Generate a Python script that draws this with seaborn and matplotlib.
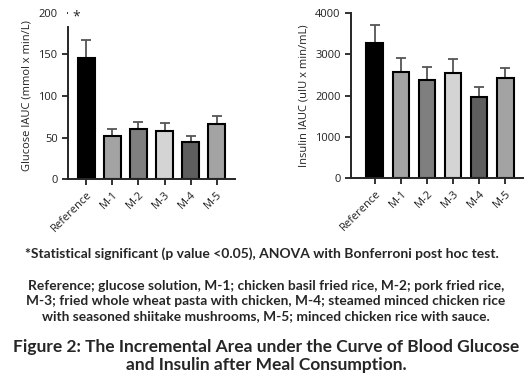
import numpy as np
import pandas as pd
import seaborn as sns
import matplotlib.pyplot as plt

#Data
meals = ["Reference", "M-1", "M-2", "M-3", "M-4", "M-5"]
glucose = [146, 52, 60.5, 58, 44, 66]
glucose_err = [21, 8, 8.5, 9, 7.5, 10]
insulin = [3266, 2573, 2379, 2556, 1968, 2427]
insulin_err = [444, 346, 306, 331, 234, 234]
bar_colors = ["#000000", "#a3a3a3", "#7f7f7f", "#d4d4d4", "#5e5e5e", "#a3a3a3"]

sns.set_style("ticks")
plt.rcParams['font.family'] = ['Open Sans', 'DejaVu Sans']

df = pd.DataFrame({"meal": meals, "glucose": glucose, "insulin": insulin})

fig = plt.figure(figsize=(5.32, 3.83), dpi=100)
W, H = 532, 383
ax1 = fig.add_axes([68 / W, 1 - 179 / H, (235 - 68) / W, (179 - 13) / H])
ax2 = fig.add_axes([351 / W, 1 - 178 / H, (523 - 351) / W, (178 - 13) / H])

def draw(ax, col, err, ylim, yticks, ylabel, xlim):
    sns.barplot(data=df, x="meal", y=col, hue="meal", palette=bar_colors,
                legend=False, width=0.65, edgecolor="black", linewidth=1.5,
                errorbar=None, ax=ax, zorder=2)
    ax.errorbar(np.arange(len(meals)), df[col], yerr=[np.zeros(len(err)), err],
                fmt="none", ecolor="#555555", elinewidth=1.3, capsize=3.5,
                capthick=1.3, zorder=1)
    ax.set_ylim(*ylim)
    ax.set_xlim(*xlim)
    ax.set_yticks(yticks)
    ax.set_xlabel("")
    ax.set_ylabel(ylabel, fontsize=8, color="#222222")
    ax.tick_params(axis="both", labelsize=8, width=1.3, length=4, colors="#222222")
    plt.setp(ax.get_xticklabels(), rotation=45, ha="right", rotation_mode="anchor")
    for s in ["left", "bottom"]:
        ax.spines[s].set_linewidth(1.4)
    sns.despine(ax=ax)

draw(ax1, "glucose", glucose_err, (0, 200), [0, 50, 100, 150, 200],
     "Glucose IAUC (mmol x min/L)", (-0.69, 5.69))
ax1.spines["left"].set_bounds(0, 183)
ax1.yaxis.get_major_ticks()[-1].tick1line.set_markersize(1)
ax1.text(-0.38, 195, "*", ha="center", va="center", fontsize=10)

draw(ax2, "insulin", insulin_err, (0, 4000), [0, 1000, 2000, 3000, 4000],
     "Insulin IAUC (uIU x min/mL)", (-0.92, 5.69))

fig.text(0.492, 1 - 254 / H,
         "*Statistical significant (p value <0.05), ANOVA with Bonferroni post hoc test.",
         ha="center", va="center", fontsize=10, fontweight="bold", family="Lato")
fig.text(0.5, 1 - 301 / H,
         "Reference; glucose solution, M-1; chicken basil fried rice, M-2; pork fried rice,\n"
         "M-3; fried whole wheat pasta with chicken, M-4; steamed minced chicken rice\n"
         "with seasoned shiitake mushrooms, M-5; minced chicken rice with sauce.",
         ha="center", va="center", fontsize=9.9, fontweight="bold", family="Lato",
         linespacing=1.3)
fig.text(0.5, 1 - 356 / H,
         "Figure 2: The Incremental Area under the Curve of Blood Glucose\n"
         "and Insulin after Meal Consumption.",
         ha="center", va="center", fontsize=12.5, fontweight="bold", family="Lato",
         linespacing=1.17)

fig.savefig("out.png", dpi=100)
